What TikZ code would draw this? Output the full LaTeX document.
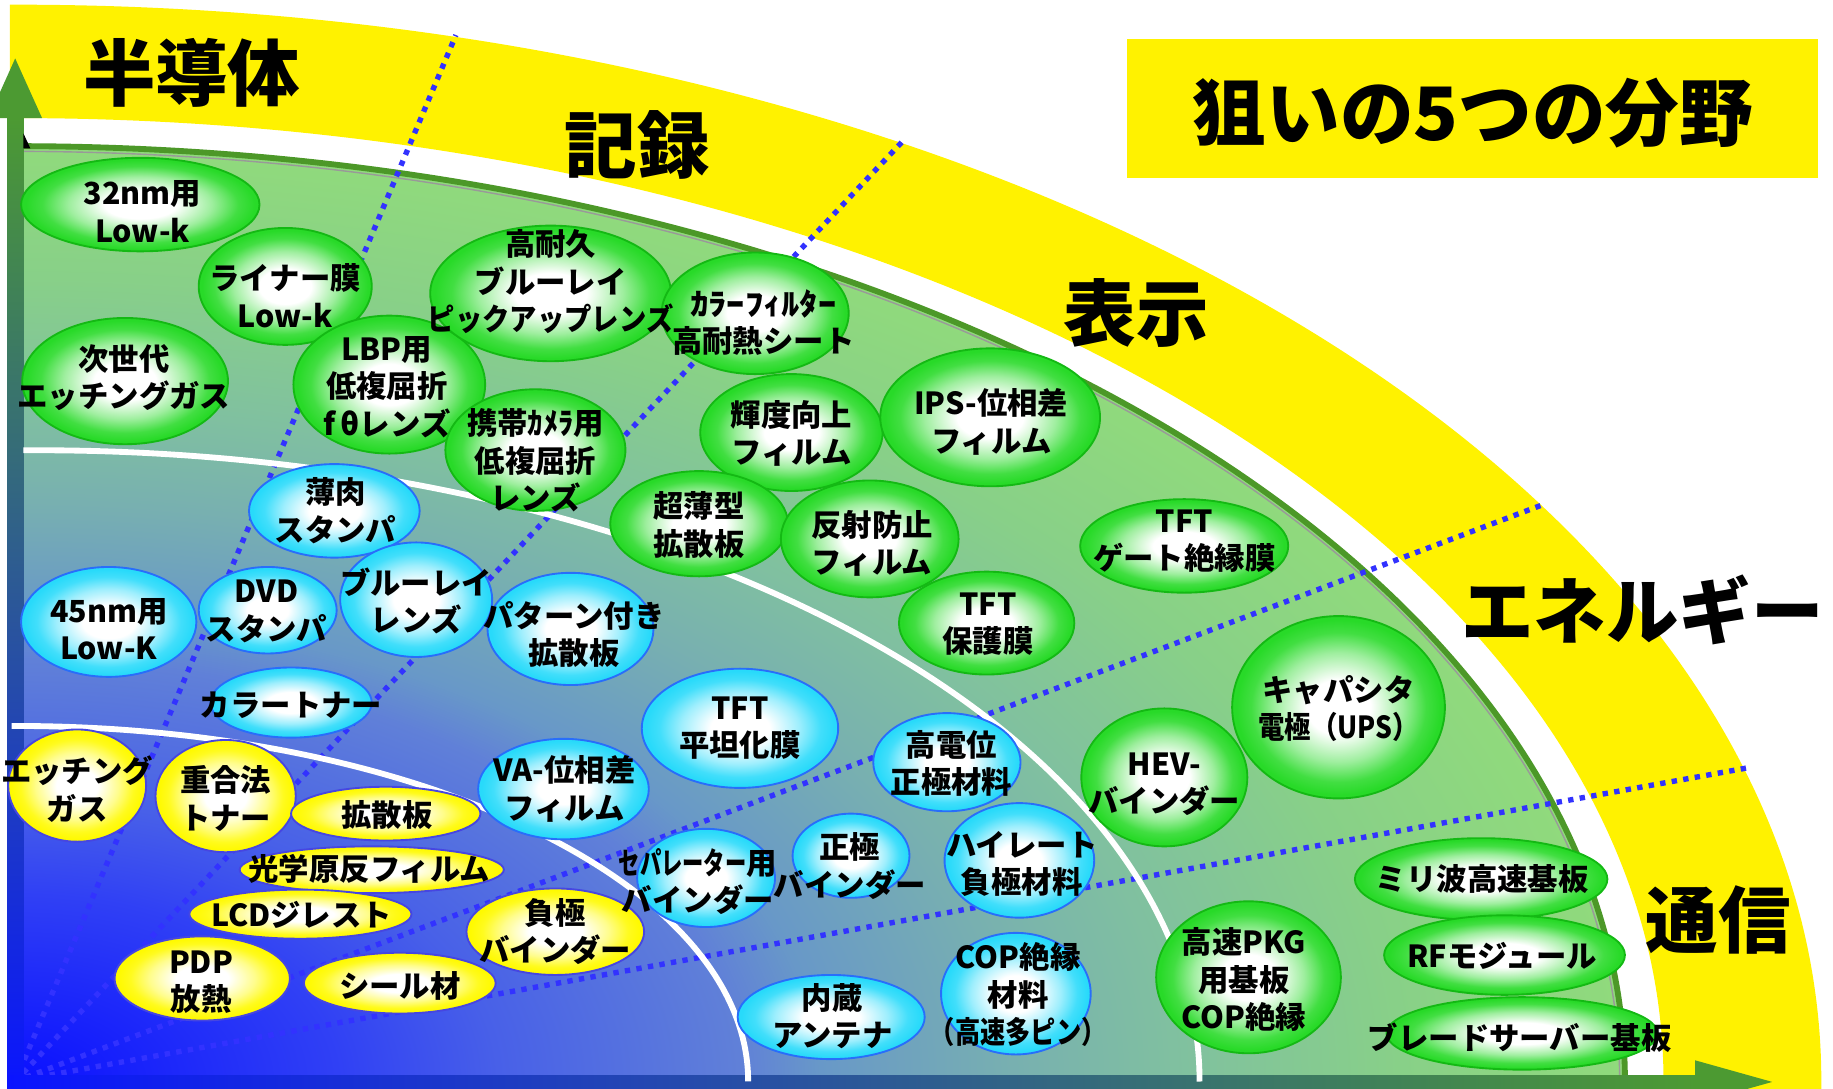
\documentclass[tikz,border=0pt]{standalone}
\usepackage{fontspec}
\setmainfont{Noto Sans CJK JP}
\usepackage{graphicx}
\usetikzlibrary{shapes.geometric}
\newcommand\sx[2]{\scalebox{#1}[1]{#2}}
\definecolor{gEdge}{RGB}{40,218,40}
\definecolor{gLine}{RGB}{20,185,20}
\definecolor{cEdge}{RGB}{40,218,250}
\definecolor{cLine}{RGB}{40,110,250}
\definecolor{yEdge}{RGB}{255,250,0}
\definecolor{yLine}{RGB}{70,70,225}
\definecolor{bg0}{RGB}{10,16,255}
\definecolor{bg1}{RGB}{48,64,245}
\definecolor{bg2}{RGB}{72,96,232}
\definecolor{bg3}{RGB}{96,128,216}
\definecolor{bg4}{RGB}{104,152,200}
\definecolor{bg5}{RGB}{120,176,176}
\definecolor{bg6}{RGB}{128,192,160}
\definecolor{bg7}{RGB}{136,208,136}
\definecolor{bg8}{RGB}{144,218,124}
\definecolor{axBlue}{RGB}{10,20,255}
\definecolor{axGreen}{RGB}{76,154,50}
\definecolor{rimGreen}{RGB}{76,152,40}
\definecolor{dotBlue}{RGB}{50,50,255}
\pgfdeclareradialshading{ballg}{\pgfpoint{0bp}{0bp}}{color(0bp)=(white); color(7.5bp)=(white); color(15bp)=(gEdge!45!white); color(20.5bp)=(gEdge!88!white); color(24bp)=(gEdge); color(50bp)=(gEdge)}
\pgfdeclareradialshading{ballc}{\pgfpoint{0bp}{0bp}}{color(0bp)=(white); color(7.5bp)=(white); color(15bp)=(cEdge!45!white); color(20.5bp)=(cEdge!88!white); color(24bp)=(cEdge); color(50bp)=(cEdge)}
\pgfdeclareradialshading{bally}{\pgfpoint{0bp}{0bp}}{color(0bp)=(white); color(7.5bp)=(white); color(15bp)=(yEdge!45!white); color(20.5bp)=(yEdge!88!white); color(24bp)=(yEdge); color(50bp)=(yEdge)}
\pgfdeclareradialshading{bgfill}{\pgfpoint{0bp}{0bp}}{color(0bp)=(bg0); color(5bp)=(bg1); color(7.5bp)=(bg2); color(11.25bp)=(bg3); color(12.5bp)=(bg4); color(15.5bp)=(bg5); color(18bp)=(bg6); color(21.5bp)=(bg7); color(25bp)=(bg8); color(50bp)=(bg8)}
\begin{document}
\begin{tikzpicture}[x=1pt,y=-1pt,
  ball/.style={ellipse, inner sep=0pt, draw, line width=1.6pt, shade},
  gb/.style={ball, shading=ballg, draw=gLine},
  cb/.style={ball, shading=ballc, draw=cLine},
  yb/.style={ball, shading=bally, draw=yLine},
  lbl/.style={font=\bfseries\fontsize{26}{32}\selectfont, align=center, inner sep=0pt, text=black},
  big/.style={font=\bfseries\fontsize{62}{70}\selectfont, inner sep=0pt, text=black},
  dotline/.style={draw=dotBlue, line width=4.6pt, dash pattern=on 4.6pt off 5.4pt},
  rim/.style={draw=rimGreen, line width=5pt},
  whitearc/.style={draw=white, line width=5pt}]
\useasboundingbox (0,0) rectangle (1568,931);
\clip (0,0) rectangle (1568,931);
\coordinate (O) at (13,925);
% yellow band
\begin{scope}
\clip (8.5,0) rectangle (1568,931);
\fill[yellow, even odd rule] (O) ellipse [x radius=1545, y radius=921] (O) ellipse [x radius=1410, y radius=824];
\end{scope}
% green quarter disc
\begin{scope}
\clip (13,0) rectangle (1568,925);
\shade[shading=bgfill] (O) ellipse [x radius=1377, y radius=800];
\end{scope}
\draw[gray!80, line width=1.2pt] (13,129.5) arc[start angle=-90, end angle=0, x radius=1372.5, y radius=795.5];
\draw[rim] (13,125) arc[start angle=-90, end angle=0, x radius=1377, y radius=800];
% dotted dividers
\coordinate (e1) at (390,30);
\coordinate (e2) at (772,121);
\coordinate (e3) at (1319,432);
\coordinate (e4) at (1494,657);
\foreach \e in {e1,e2,e3,e4} \draw[dotline] (O) -- (\e);
% axes
\shade[bottom color=axBlue, top color=axGreen] (6,932) rectangle (20,100);
\fill[axGreen] (-10,101) -- (13,50) -- (36,101) -- cycle;
\shade[left color=axBlue, right color=axGreen] (6,920) rectangle (1451,932);
\fill[axGreen] (1450,907) -- (1516,925.5) -- (1450,944) -- cycle;
\fill[black] (20,114) -- (20,127) -- (26,127) -- cycle;
% white arcs
\draw[whitearc] (20,385.2) arc[start angle=-90.7, end angle=0, x radius=994, y radius=540];
\draw[whitearc] (10,621) -- (13,621) arc[start angle=-90, end angle=0, x radius=627, y radius=304];
% green balls
\node[gb, minimum width=204pt, minimum height=80pt] (g1) at (120,175) {};
\node[gb, minimum width=148pt, minimum height=100pt] (g2) at (244,245) {};
\node[gb, minimum width=176pt, minimum height=108pt] (g3) at (107,326) {};
\node[gb, minimum width=164pt, minimum height=118pt] (g4) at (333,329) {};
\node[gb, minimum width=206pt, minimum height=116pt] (g5) at (471,251) {};
\node[gb, minimum width=160pt, minimum height=104pt] (g6) at (646,268) {};
\node[gb, minimum width=154pt, minimum height=104pt] (g7) at (458,385) {};
\node[gb, minimum width=156pt, minimum height=100pt] (g8) at (677,370) {};
\node[gb, minimum width=188pt, minimum height=118pt] (g9) at (847,357) {};
\node[gb, minimum width=152pt, minimum height=90pt] (g10) at (598,448) {};
\node[gb, minimum width=152pt, minimum height=100pt] (g11) at (744,461) {};
\node[gb, minimum width=178pt, minimum height=80pt] (g12) at (1013,467) {};
\node[gb, minimum width=150pt, minimum height=88pt] (g13) at (844,533) {};
\node[gb, minimum width=182pt, minimum height=156pt] (g14) at (1145,605) {};
\node[gb, minimum width=142pt, minimum height=118pt] (g15) at (996,665) {};
\node[gb, minimum width=158pt, minimum height=130pt] (g16) at (1068,836) {};
\node[gb, minimum width=216pt, minimum height=70pt] (g17) at (1267,752) {};
\node[gb, minimum width=206pt, minimum height=68pt] (g18) at (1287,817) {};
\node[gb, minimum width=232pt, minimum height=62pt] (g19) at (1302,884) {};
% cyan balls
\node[cb, minimum width=146pt, minimum height=80pt] (c1) at (286,437) {};
\node[cb, minimum width=150pt, minimum height=94pt] (c2) at (93,532) {};
\node[cb, minimum width=118pt, minimum height=74pt] (c3) at (229,522) {};
\node[cb, minimum width=130pt, minimum height=98pt] (c4) at (356,513) {};
\node[cb, minimum width=142pt, minimum height=96pt] (c5) at (488,538) {};
\node[cb, minimum width=138pt, minimum height=60pt] (c6) at (249,601) {};
\node[cb, minimum width=168pt, minimum height=102pt] (c7) at (633,623) {};
\node[cb, minimum width=146pt, minimum height=86pt] (c8) at (482,675) {};
\node[cb, minimum width=126pt, minimum height=84pt] (c9) at (810,652) {};
\node[cb, minimum width=118pt, minimum height=84pt] (c10) at (604,751) {};
\node[cb, minimum width=100pt, minimum height=72pt] (c11) at (728,732) {};
\node[cb, minimum width=128pt, minimum height=98pt] (c12) at (872,736) {};
\node[cb, minimum width=160pt, minimum height=72pt] (c13) at (711,870) {};
\node[cb, minimum width=128pt, minimum height=104pt] (c14) at (869,850) {};
% yellow balls
\node[yb, minimum width=118pt, minimum height=96pt] (y1) at (66,672) {};
\node[yb, minimum width=120pt, minimum height=96pt] (y2) at (193,681) {};
\node[yb, minimum width=162pt, minimum height=46pt] (y3) at (330,696) {};
\node[yb, minimum width=226pt, minimum height=40pt] (y4) at (318,744) {};
\node[yb, minimum width=190pt, minimum height=42pt] (y5) at (257,782) {};
\node[yb, minimum width=150pt, minimum height=72pt] (y6) at (173,837) {};
\node[yb, minimum width=164pt, minimum height=52pt] (y7) at (342,841) {};
\node[yb, minimum width=152pt, minimum height=74pt] (y8) at (475,797) {};
% labels
\node[lbl] (tg1) at (122,181) {32nm用\\Low-k};
\node[lbl] (tg2) at (244,253) {ライナー膜\\Low-k};
\node[lbl] (tg3) at (106,323) {次世代\\エッチングガス};
\node[lbl] (tg4) at (331,331) {LBP用\\低複屈折\\f\,θレンズ};
\node[lbl] (tg5) at (471,241) {高耐久\\ブルーレイ\\\sx{0.9}{ピックアップレンズ}};
\node[lbl] (tg6) at (653,276) {\sx{1.2}{ｶﾗｰﾌｨﾙﾀｰ}\\高耐熱シート};
\node[lbl] (tg7) at (458,394) {携帯ｶﾒﾗ用\\低複屈折\\レンズ};
\node[lbl] (tg8) at (677,371) {輝度向上\\フィルム};
\node[lbl] (tg9) at (848,361) {IPS-位相差\\フィルム};
\node[lbl] (tg10) at (598,449) {超薄型\\拡散板};
\node[lbl] (tg11) at (746,465) {反射防止\\フィルム};
\node[lbl] (tg12) at (1013,463) {TFT\\ゲート絶縁膜};
\node[lbl] (tg13) at (845,534) {TFT\\保護膜};
\node[lbl] (tg14) at (1145,606) {キャパシタ\\\sx{0.87}{電極（UPS）}};
\node[lbl] (tg15) at (996,671) {HEV-\\バインダー};
\node[lbl] (tg16) at (1064,838) {高速PKG\\用基板\\COP絶縁};
\node[lbl] (tg17) at (1268,752) {ミリ波高速基板};
\node[lbl] (tg18) at (1285,818) {RFモジュール};
\node[lbl] (tg19) at (1300,888) {ブレードサーバー基板};
\node[lbl] (tc1) at (287,437) {薄肉\\スタンパ};
\node[lbl] (tc2) at (93,538) {45nm用\\Low-K};
\node[lbl] (tc3) at (228,523) {DVD\\スタンパ};
\node[lbl] (tc4) at (356,514) {ブルーレイ\\レンズ};
\node[lbl] (tc5) at (491,543) {パターン付き\\拡散板};
\node[lbl] (tc6) at (249,603) {カラートナー};
\node[lbl] (tc7) at (633,623) {TFT\\平坦化膜};
\node[lbl] (tc8) at (483,675) {VA-位相差\\フィルム};
\node[lbl] (tc9) at (814,653) {高電位\\正極材料};
\node[lbl] (tc10) at (597,754) {\sx{0.7}{セパレーター}用\\バインダー};
\node[lbl] (tc11) at (727,741) {正極\\バインダー};
\node[lbl] (tc12) at (874,739) {ハイレート\\負極材料};
\node[lbl] (tc13) at (712,869) {内蔵\\アンテナ};
\node[lbl] (tc14) at (871,851) {COP絶縁\\材料\\\sx{0.83}{（高速多ピン）}};
\node[lbl] (ty1) at (66,675) {エッチング\\ガス};
\node[lbl] (ty2) at (193,683) {重合法\\トナー};
\node[lbl] (ty3) at (331,697) {拡散板};
\node[lbl] (ty4) at (316,743) {光学原反フィルム};
\node[lbl] (ty5) at (258,783) {LCDジレスト};
\node[lbl] (ty6) at (172,840) {PDP\\放熱};
\node[lbl] (ty7) at (342,843) {シール材};
\node[lbl] (ty8) at (475,797) {負極\\バインダー};
% category labels
\node[big] (k1) at (164,62) {半導体};
\node[big] (k2) at (545,124) {記録};
\node[big] (k3) at (972,268) {表示};
\node[big] (k4) at (1405,522) {エネルギー};
\node[big] (k5) at (1470,787) {通信};
\fill[yellow] (964,33) rectangle (1555,152);
\node[big, font=\bfseries\fontsize{63}{70}\selectfont] (title) at (1260,97) {狙いの5つの分野};
\end{tikzpicture}
\end{document}
